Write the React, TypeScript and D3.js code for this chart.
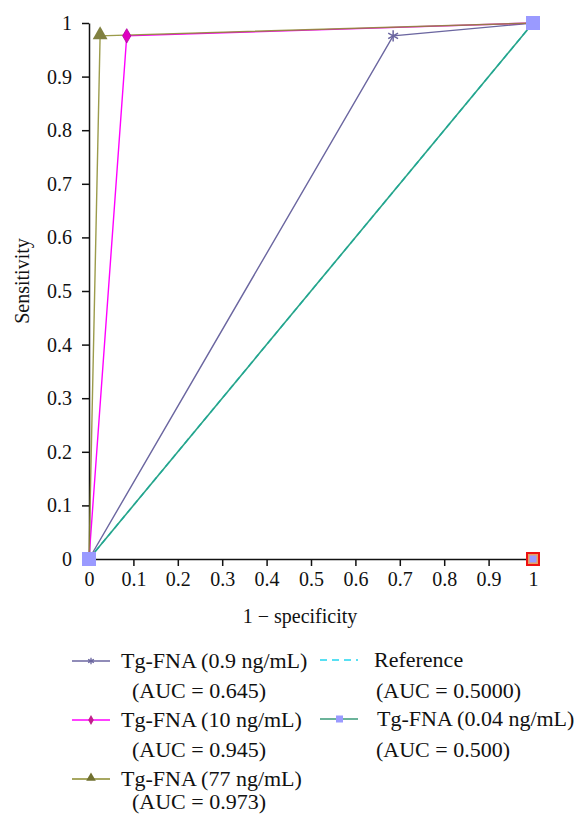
import React, { useEffect, useRef } from "react";
import * as d3 from "d3";

const xTicks = [0, 0.1, 0.2, 0.3, 0.4, 0.5, 0.6, 0.7, 0.8, 0.9, 1];
const yTicks = [0, 0.1, 0.2, 0.3, 0.4, 0.5, 0.6, 0.7, 0.8, 0.9, 1];

const fpr09 = [0, 0.685, 1];
const tpr09 = [0, 0.976, 1];
const fpr10 = [0, 0.085, 1];
const tpr10 = [0, 0.976, 1];
const fpr77 = [0, 0.025, 1];
const tpr77 = [0, 0.976, 1];
const fprRef = [0, 1];
const tprRef = [0, 1];
const fpr004 = [0, 1];
const tpr004 = [0, 1];
const extraPointX = [1];
const extraPointY = [0];

const legendLeft = [
  ["Tg-FNA (0.9 ng/mL)", "(AUC = 0.645)"],
  ["Tg-FNA (10 ng/mL)", "(AUC = 0.945)"],
  ["Tg-FNA (77 ng/mL)", "(AUC = 0.973)"],
];
const legendRight = [
  ["Reference", "(AUC = 0.5000)"],
  ["Tg-FNA (0.04 ng/mL)", "(AUC = 0.500)"],
];

const C09 = "#6b66a0";
const C10 = "#ff00ff";
const C77 = "#8a8a2c";
const CREF = "#22d6f0";
const C004 = "#2aa386";
const CSQ = "#9a9aff";
const FONT = "Liberation Serif, Times New Roman, serif";
const FS = "20px";
const FSL = "22px";

export default function App() {
  const ref = useRef<SVGSVGElement>(null);
  useEffect(() => {
    const svg = d3.select(ref.current);
    svg.selectAll("*").remove();
    const x = d3.scaleLinear().domain([0, 1]).range([89, 533]);
    const y = d3.scaleLinear().domain([0, 1]).range([559, 23]);
    const fmt = (d: any) => d3.format("~g")(d);

    const gx = svg.append("g").attr("transform", `translate(0,${y(0)})`)
      .call(d3.axisBottom(x).tickValues(xTicks).tickSize(7).tickSizeOuter(0).tickPadding(5).tickFormat(fmt));
    const gy = svg.append("g").attr("transform", `translate(${x(0)},0)`)
      .call(d3.axisLeft(y).tickValues(yTicks).tickSize(7).tickSizeOuter(0).tickPadding(10).tickFormat(fmt));
    [gx, gy].forEach((g) => {
      g.attr("font-family", null).attr("font-size", null);
      g.selectAll("text").style("font-family", FONT).style("font-size", FS).attr("fill", "#111");
      g.selectAll("line,path").attr("stroke", "#111").attr("stroke-width", 1.5);
    });
    gx.selectAll("text").attr("dy", "0.75em");

    svg.append("text").attr("x", 300).attr("y", 616).attr("dy", "0.33em").attr("text-anchor", "middle")
      .style("font-family", FONT).style("font-size", FS).attr("fill", "#111").text("1 − specificity");
    svg.append("text").attr("transform", `translate(22,${y(0.5) - 10}) rotate(-90)`).attr("dy", "0.33em").attr("text-anchor", "middle")
      .style("font-family", FONT).style("font-size", FS).attr("fill", "#111").text("Sensitivity");

    const line = d3.line<[number, number]>().x((d) => x(d[0])).y((d) => y(d[1]));
    const pts = (a: number[], b: number[]) => a.map((v, i) => [v, b[i]] as [number, number]);

    svg.append("path").attr("d", line(pts(fprRef, tprRef))).attr("fill", "none").attr("stroke", CREF)
      .attr("stroke-width", 1.6).attr("stroke-dasharray", "6,4");
    svg.append("path").attr("d", line(pts(fpr004, tpr004))).attr("fill", "none").attr("stroke", C004).attr("stroke-width", 1.6);
    svg.append("path").attr("d", line(pts(fpr09, tpr09))).attr("fill", "none").attr("stroke", C09).attr("stroke-width", 1.4);
    svg.append("path").attr("d", line(pts(fpr10, tpr10))).attr("fill", "none").attr("stroke", C10).attr("stroke-width", 1.4);
    svg.append("path").attr("d", line(pts(fpr77, tpr77))).attr("fill", "none").attr("stroke", C77).attr("stroke-width", 1.4).attr("stroke-opacity", 0.85);

    const sym = (type: any, size: number) => d3.symbol().type(type).size(size)();
    svg.append("path").attr("d", sym(d3.symbolAsterisk, 90))
      .attr("transform", `translate(${x(fpr09[1])},${y(tpr09[1])})`).attr("fill", "none").attr("stroke", C09).attr("stroke-width", 1.5);
    svg.append("path").attr("d", sym(d3.symbolDiamond, 60))
      .attr("transform", `translate(${x(fpr10[1])},${y(tpr10[1])})`).attr("fill", "#e000c0").attr("stroke", "#b000a0").attr("stroke-width", 0.8);
    svg.append("path").attr("d", sym(d3.symbolTriangle, 95))
      .attr("transform", `translate(${x(fpr77[1])},${y(tpr77[1]) - 1})`).attr("fill", "#808040");

    extraPointX.forEach((v, i) => {
      svg.append("rect").attr("x", x(v) - 7).attr("y", y(extraPointY[i]) - 7).attr("width", 14).attr("height", 14)
        .attr("fill", "#ee1111");
      svg.append("rect").attr("x", x(v) - 5).attr("y", y(extraPointY[i]) - 5).attr("width", 10).attr("height", 10)
        .attr("fill", "#e8a060");
      svg.append("rect").attr("x", x(v) - 3.5).attr("y", y(extraPointY[i]) - 3.5).attr("width", 7).attr("height", 7)
        .attr("fill", CSQ);
    });

    pts(fpr004, tpr004).forEach((p) => {
      svg.append("rect").attr("x", x(p[0]) - 7).attr("y", y(p[1]) - 7).attr("width", 14).attr("height", 14).attr("fill", CSQ);
    });

    const leg = svg.append("g").style("font-family", FONT).style("font-size", FSL).attr("fill", "#111");
    const rowsL = [661, 720, 779];
    const aucL = [691, 750, 802];
    const colsL = [C09, C10, C77];
    legendLeft.forEach((t, i) => {
      leg.append("line").attr("x1", 72).attr("x2", 110).attr("y1", rowsL[i]).attr("y2", rowsL[i])
        .attr("stroke", colsL[i]).attr("stroke-width", 1.5);
      leg.append("text").attr("x", 121).attr("y", rowsL[i]).attr("dy", "0.33em").text(t[0]);
      leg.append("text").attr("x", 132).attr("y", aucL[i]).attr("dy", "0.33em").text(t[1]);
    });
    leg.append("path").attr("d", sym(d3.symbolAsterisk, 30)).attr("transform", `translate(91,${rowsL[0]})`)
      .attr("fill", "none").attr("stroke", C09).attr("stroke-width", 1.3);
    leg.append("path").attr("d", sym(d3.symbolDiamond, 28)).attr("transform", `translate(91,${rowsL[1]})`)
      .attr("fill", "#c0208a");
    leg.append("path").attr("d", sym(d3.symbolTriangle, 40)).attr("transform", `translate(91,${rowsL[2] - 1})`)
      .attr("fill", "#707030");

    const rowsR = [660, 719];
    const aucR = [691, 750];
    leg.append("line").attr("x1", 320).attr("x2", 358).attr("y1", rowsR[0]).attr("y2", rowsR[0])
      .attr("stroke", CREF).attr("stroke-width", 1.6).attr("stroke-dasharray", "7,5");
    leg.append("line").attr("x1", 320).attr("x2", 358).attr("y1", rowsR[1]).attr("y2", rowsR[1])
      .attr("stroke", "#3a9a78").attr("stroke-width", 1.6);
    leg.append("rect").attr("x", 336).attr("y", rowsR[1] - 3.5).attr("width", 7).attr("height", 7).attr("fill", CSQ);
    legendRight.forEach((t, i) => {
      leg.append("text").attr("x", i === 0 ? 374 : 377).attr("y", rowsR[i]).attr("dy", "0.33em").text(t[0]);
      leg.append("text").attr("x", 376).attr("y", aucR[i]).attr("dy", "0.33em").text(t[1]);
    });
  }, []);
  return (
    <svg ref={ref} width={579} height={825}
      style={{ position: "absolute", left: 0, top: 0, background: "#fff" }} />
  );
}
